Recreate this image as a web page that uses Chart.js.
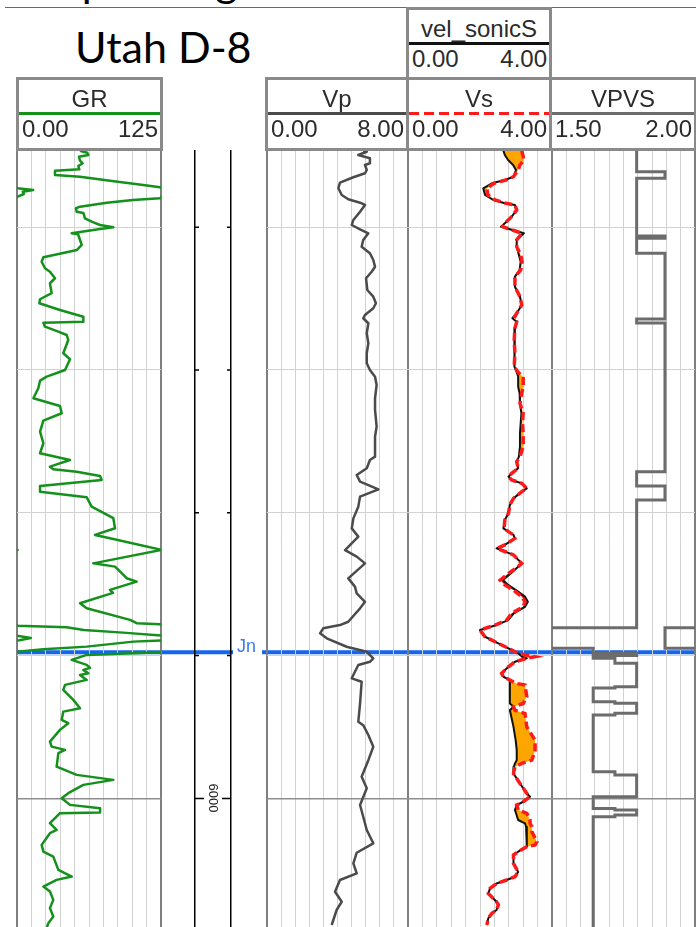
<!DOCTYPE html>
<html>
<head>
<meta charset="utf-8">
<title>Utah D-8</title>
<script src="https://cdn.jsdelivr.net/npm/chart.js@4.4.1/dist/chart.umd.min.js"></script>
<style>
  html, body { margin: 0; padding: 0; background: #fff; }
  body { position: relative; width: 696px; height: 927px; overflow: hidden;
         font-family: "Liberation Sans", Arial, sans-serif; }
  .t { position: absolute; white-space: nowrap; }
  .big { font-family: Lato, "Open Sans", sans-serif; font-size: 43px; line-height: 43px; color: #000; }
  .box { position: absolute; box-sizing: border-box; border: 3px solid #8a8a8a; background: #fff; z-index: 3; }
  .hd { position: absolute; font-size: 24px; line-height: 24px; color: #2b2b2b; white-space: nowrap; z-index: 4; }
  .hl { position: absolute; height: 3px; z-index: 4; }
  canvas { position: absolute; top: 150px; }
</style>
</head>
<body>
<div class="t big" style="left:55px; top:-41px;">Vp/Vs log</div>
<div class="t" style="left:5px; top:7px; width:691px; height:1px; background:#6a6a6a;"></div>
<div class="t big" style="left:75px; top:25px;">Utah D-8</div>

<canvas id="cGR"></canvas>
<canvas id="cDepth"></canvas>
<canvas id="cVp"></canvas>
<canvas id="cVs"></canvas>
<canvas id="cVpvs"></canvas>

<script>
// ---- depth window (ft) ----
const DEPTH_TOP = 5546;
const DEPTH_BASE = 6090;
const depthTicks = [5600, 5700, 5800, 5900, 6000];
const labelledDepths = [6000];

// ---- formation tops ----
const topNames = ['Jn'];
const topDepths = [5897.7];

// ---- header text ----
const trackNames = ['GR', 'Vp', 'Vs', 'VPVS'];
const scaleLeftLabels = ['0.00', '0.00', '0.00', '1.50'];
const scaleRightLabels = ['125', '8.00', '4.00', '2.00'];
const overlayName = 'vel_sonicS';
const overlayLeftLabel = '0.00';
const overlayRightLabel = '4.00';

// ---- gamma ray (API) ----
const grDepth = [
  5546.5, 5547.9, 5549.5, 5550.7, 5553.5, 5555.3, 5557.2, 5559.5, 5560.5, 5563.5,
  5564.7, 5567.5, 5570.5, 5572.1, 5572.8, 5574.0, 5575.2, 5576.8, 5578.7, 5579.8,
  5581.0, 5582.9, 5585.7, 5586.8, 5589.2, 5590.1, 5593.8, 5596.2, 5598.5, 5600.1,
  5601.3, 5604.3, 5605.0, 5612.5, 5616.0, 5621.1, 5624.2, 5628.8, 5631.2, 5635.8,
  5639.3, 5646.3, 5647.5, 5650.5, 5653.3, 5658.0, 5662.7, 5666.2, 5666.9, 5669.7,
  5673.2, 5675.5, 5679.0, 5688.3, 5692.5, 5700.0, 5704.7, 5707.5, 5712.8, 5719.8,
  5725.2, 5730.3, 5735.5, 5743.2, 5751.3, 5758.3, 5763.0, 5767.7, 5769.5, 5771.2,
  5774.2, 5777.0, 5781.2, 5785.2, 5789.1, 5795.7, 5803.8, 5810.8, 5815.5, 5817.8,
  5826.0, 5835.4, 5837.7, 5845.8, 5848.2, 5854.0, 5856.1, 5863.3, 5866.8, 5875.0,
  5877.3, 5878.0, 5879.0, 5880.1, 5882.0, 5883.9, 5886.0, 5887.6, 5889.3, 5890.2,
  5893.7, 5895.5, 5897.2, 5897.6, 5899.5, 5903.0, 5906.5, 5908.6, 5910.0, 5912.3,
  5913.5, 5917.0, 5920.5, 5924.0, 5927.5, 5931.0, 5936.8, 5939.2, 5945.0, 5947.3,
  5952.0, 5960.2, 5963.7, 5966.0, 5968.3, 5977.7, 5983.5, 5987.0, 5990.5, 5996.3,
  5999.8, 6004.5, 6006.8, 6009.9, 6010.3, 6013.8, 6017.3, 6022.0, 6024.3, 6032.5,
  6037.2, 6040.7, 6050.0, 6054.7, 6057.0, 6061.7, 6065.2, 6071.0, 6076.8, 6082.7,
  6087.3, 6090.0
];
const grApi = [
  54.7, 61.0, 61.9, 53.8, 54.7, 57.0, 53.2, 54.1, 33.0, 33.0,
  54.7, 80.7, 109.6, 124.1, 125.5, 139, 130, 131, 125.5, 124.1,
  100.7, 77.9, 54.7, 51.2, 51.8, 57.6, 59.0, 64.8, 72.1, 83.6,
  72.1, 47.5, 53.0, 56.2, 52.1, 22.9, 21.4, 24.3, 28.6, 33.0,
  28.6, 30.1, 27.2, 20.0, 19.4, 37.3, 57.6, 57.6, 22.9, 24.3,
  35.9, 43.1, 44.5, 40.2, 46.0, 41.7, 25.8, 20.0, 18.5, 14.2,
  37.3, 38.8, 22.9, 20.0, 22.9, 20.0, 46.0, 28.6, 31.5, 51.8,
  72.1, 73.5, 20.0, 20.0, 60.5, 64.8, 83.6, 85.1, 67.7, 80.7,
  125.5, 66.2, 85.1, 95.2, 103.9, 80.7, 83.3, 54.7, 60.5, 98.1,
  103.9, 124.1, 125.5, 168, 183, 217, 250, 262, 252, 226,
  185.5, 147.8, 125.5, 124, 60.5, 47.5, 60.5, 63.4, 57.6, 61.9,
  54.7, 60.5, 41.7, 40.2, 44.5, 48.9, 54.7, 40.2, 38.8, 44.5,
  37.3, 28.6, 30.1, 41.7, 35.9, 34.4, 51.8, 83.6, 57.6, 44.5,
  38.8, 46.0, 72.1, 72.1, 37.3, 33.0, 28.6, 34.4, 28.6, 21.4,
  22.9, 31.5, 35.9, 47.5, 34.4, 22.9, 28.6, 31.5, 28.6, 31.5,
  27.2, 26.0
];

// ---- compressional velocity (km/s) ----
const vpDepth = [
  5546.5, 5547.2, 5549.5, 5551.8, 5555.3, 5556.5, 5560.0, 5562.3, 5565.1, 5568.9,
  5572.8, 5577.5, 5580.5, 5582.9, 5584.5, 5589.2, 5595.0, 5598.5, 5601.5, 5604.3,
  5609.0, 5613.7, 5618.3, 5623.0, 5627.7, 5631.2, 5635.8, 5644.0, 5648.7, 5653.3,
  5656.8, 5661.5, 5663.8, 5667.3, 5674.3, 5681.3, 5688.3, 5695.3, 5700.0, 5704.7,
  5710.5, 5719.8, 5728.0, 5739.7, 5746.7, 5760.7, 5763.0, 5768.8, 5773.5, 5778.2,
  5783.6, 5788.7, 5795.7, 5803.9, 5810.9, 5816.7, 5826.1, 5830.7, 5835.4, 5845.9,
  5851.7, 5856.4, 5862.3, 5866.9, 5876.3, 5878.6, 5880.9, 5884.4, 5887.9, 5893.8,
  5897.3, 5901.9, 5904.3, 5906.6, 5911.3, 5915.9, 5918.3, 5933.5, 5946.3, 5948.7,
  5955.6, 5963.8, 5973.2, 5984.8, 5992.9, 6004.6, 6012.8, 6022.1, 6031.4, 6038.0,
  6045.4, 6052.4, 6057.1, 6065.3, 6072.3, 6078.1, 6088.6
];
const vp = [
  5.46, 5.66, 5.18, 5.84, 5.84, 5.56, 5.66, 5.56, 4.90, 4.14,
  4.05, 4.24, 4.61, 5.28, 5.56, 5.28, 4.90, 4.81, 5.28, 5.75,
  5.46, 5.37, 5.84, 6.03, 6.13, 5.94, 5.62, 5.69, 6.03, 6.18,
  6.03, 5.56, 5.46, 5.75, 5.66, 5.75, 5.66, 5.66, 5.84, 6.13,
  6.22, 6.13, 6.13, 6.22, 6.13, 6.13, 5.84, 5.66, 5.09, 5.28,
  6.32, 5.28, 5.18, 4.90, 4.81, 5.18, 4.43, 5.09, 5.56, 4.61,
  4.99, 5.09, 5.56, 5.28, 4.61, 4.14, 3.19, 3.01, 3.39, 4.52,
  5.66, 6.03, 5.84, 5.18, 4.99, 4.81, 5.37, 5.28, 5.18, 5.46,
  5.75, 6.03, 5.75, 5.37, 5.66, 5.28, 5.46, 5.66, 6.03, 5.09,
  4.90, 5.09, 4.14, 3.86, 4.24, 3.95, 3.67
];

// ---- shear velocity: measured (vel_sonicS) and modelled (Vs), km/s ----
const sonicDepth = [
  5546.5, 5549.5, 5553.0, 5556.5, 5560.0, 5564.7, 5567.0, 5569.3, 5572.8, 5577.5,
  5581.0, 5583.3, 5584.5, 5588.0, 5592.7, 5597.3, 5599.7, 5601.5, 5604.3, 5609.0,
  5613.7, 5619.5, 5624.2, 5630.0, 5634.7, 5641.7, 5648.7, 5654.5, 5660.3, 5663.8,
  5666.2, 5670.8, 5679.0, 5688.3, 5697.7, 5702.3, 5704.7, 5711.7, 5716.3, 5723.3,
  5730.3, 5737.3, 5744.3, 5753.7, 5760.7, 5764.2, 5768.8, 5772.4, 5774.7, 5777.0,
  5779.4, 5782.9, 5785.2, 5789.9, 5794.5, 5800.4, 5805.0, 5810.9, 5813.2, 5815.5,
  5817.9, 5822.5, 5824.9, 5829.5, 5835.4, 5837.7, 5842.4, 5847.1, 5850.5, 5854.1,
  5858.7, 5862.3, 5865.8, 5870.4, 5875.1, 5878.6, 5882.1, 5886.8, 5891.4, 5894.9,
  5898.4, 5900.8, 5901.9, 5904.3, 5907.8, 5912.4, 5914.8, 5917.1, 5919.4, 5920.6,
  5928.8, 5933.5, 5935.8, 5938.2, 5940.5, 5949.9, 5959.2, 5966.2, 5973.2, 5975.5,
  5977.9, 5982.5, 5989.5, 5996.5, 5998.8, 6002.3, 6004.6, 6008.1, 6010.4, 6015.1,
  6017.4, 6019.8, 6023.3, 6030.3, 6032.6, 6033.8, 6037.3, 6039.6, 6045.5, 6051.4,
  6054.8, 6057.1, 6059.5, 6063.0, 6066.5, 6070.0, 6072.3, 6074.6, 6078.1, 6080.4,
  6083.9, 6088.6
];
const velSonicS = [
  2.65, 2.69, 2.78, 2.92, 3.00, 2.93, 2.69, 2.33, 2.09, 2.14,
  2.37, 2.69, 2.97, 3.02, 2.88, 2.69, 2.58, 2.83, 3.22, 3.02,
  3.02, 3.08, 3.13, 3.10, 2.97, 2.97, 3.11, 3.16, 3.02, 2.90,
  3.02, 2.97, 2.95, 2.97, 2.95, 3.03, 3.06, 3.06, 3.10, 3.11,
  3.15, 3.13, 3.11, 3.11, 3.08, 3.02, 3.06, 2.88, 2.79, 2.88,
  3.16, 3.30, 3.16, 2.93, 2.83, 2.79, 2.69, 2.65, 2.79, 2.93,
  2.97, 2.69, 2.46, 2.93, 3.16, 3.06, 2.86, 2.64, 2.78, 3.00,
  3.25, 3.33, 3.25, 2.94, 2.78, 2.46, 2.00, 2.14, 2.51, 2.79,
  3.06, 3.17, 3.30, 2.97, 2.79, 2.60, 2.65, 2.83, 2.83, 2.83,
  2.83, 2.83, 2.93, 2.83, 2.85, 2.93, 2.99, 3.02, 3.02, 2.97,
  2.94, 2.93, 3.11, 3.30, 3.39, 3.20, 3.02, 2.97, 3.00, 3.06,
  3.25, 3.28, 3.30, 3.30, 3.30, 3.30, 3.06, 2.93, 2.93, 3.06,
  2.97, 2.74, 2.46, 2.28, 2.23, 2.37, 2.46, 2.51, 2.46, 2.33,
  2.23, 2.19
];
const vs = [
  3.16, 3.19, 3.22, 3.11, 3.06, 2.93, 2.72, 2.39, 2.19, 2.22,
  2.42, 2.72, 2.97, 3.02, 2.88, 2.69, 2.63, 2.83, 3.17, 3.02,
  3.02, 3.13, 3.17, 3.13, 2.97, 2.97, 3.11, 3.16, 3.02, 2.94,
  3.02, 2.97, 2.95, 2.97, 2.95, 3.08, 3.20, 3.20, 3.16, 3.11,
  3.20, 3.18, 3.20, 3.20, 3.11, 3.02, 3.06, 2.88, 2.79, 2.88,
  3.16, 3.30, 3.16, 2.93, 2.83, 2.79, 2.69, 2.67, 2.79, 2.93,
  2.97, 2.69, 2.47, 2.93, 3.16, 3.06, 2.79, 2.56, 2.69, 2.93,
  3.16, 3.25, 3.20, 2.88, 2.74, 2.42, 2.00, 2.14, 2.51, 2.79,
  3.06, 3.53, 3.30, 2.97, 2.79, 2.60, 2.65, 2.83, 3.00, 3.25,
  3.30, 3.20, 2.93, 2.97, 3.25, 3.30, 3.53, 3.53, 3.44, 3.16,
  2.97, 2.93, 3.11, 3.30, 3.39, 3.20, 3.02, 3.06, 3.30, 3.39,
  3.39, 3.44, 3.44, 3.58, 3.53, 3.30, 3.06, 2.93, 2.93, 3.06,
  2.97, 2.74, 2.46, 2.28, 2.23, 2.37, 2.46, 2.51, 2.46, 2.33,
  2.23, 2.19
];

// ---- Vp/Vs ratio (blocked; each value holds down to the next depth) ----
const vpvsDepth = [
  5546.0, 5561.2, 5565.8, 5606.2, 5607.8, 5618.3, 5664.3, 5667.1, 5771.2, 5781.2,
  5791.0, 5880.4, 5894.9, 5898.4, 5899.9, 5901.9, 5905.4, 5921.8, 5922.7, 5932.3,
  5933.4, 5940.4, 5941.6, 5981.3, 5983.6, 5998.8, 6007.0, 6008.1, 6011.6, 6012.8,
  6090.0
];
const vpvs = [
  1.796, 1.895, 1.796, 1.895, 1.796, 1.895, 1.796, 1.895, 1.796, 1.895,
  1.796, 1.395, 1.644, 1.796, 1.644, 1.720, 1.796, 1.720, 1.644, 1.720,
  1.796, 1.720, 1.644, 1.720, 1.796, 1.644, 1.720, 1.796, 1.720, 1.644,
  1.644
];

// ---- colours ----
const GR_COLOR = '#13911b';
const VP_COLOR = '#4b4b4b';
const VS_COLOR = '#ff1a1a';
const VEL_COLOR = '#111111';
const VPVS_COLOR = '#6c6c6c';
const TOP_COLOR = '#1466ee';
const GRID = '#d2d2d2';
const TRACK_EDGE = '#7f7f7f';

const TRACK_TOP = 150;
const TRACK_HEIGHT = 777;

function pairs(depths, values) {
  return depths.map((d, i) => ({ x: values[i], y: d }));
}

// Backup traces: values past a track edge wrap back in from the opposite edge
const grWrap1 = grApi.map((v, i) =>
  (v > 125 || grApi[i - 1] > 125 || grApi[i + 1] > 125) ? v - 125 : null);
const grWrap2 = grApi.map((v, i) =>
  (v > 250 || grApi[i - 1] > 250 || grApi[i + 1] > 250) ? v - 250 : null);
const vpvsWrap = vpvs.map((v, i) =>
  (v < 1.5 || vpvs[i - 1] < 1.5 || vpvs[i + 1] < 1.5) ? v + 0.5 : null);

// Shading edges between the two shear curves
const sonicUpper = vs.map((v, i) => Math.max(v, velSonicS[i]));
const sonicLower = vs.map((v, i) => Math.min(v, velSonicS[i]));

// ---- plugins ----
const topsPlugin = {
  id: 'formationTops',
  beforeDraw(chart) {
    const { ctx } = chart;
    const ys = chart.scales.y;
    topDepths.forEach(d => {
      const py = ys.getPixelForValue(d);
      ctx.save();
      ctx.strokeStyle = TOP_COLOR;
      ctx.lineWidth = 4;
      ctx.beginPath();
      ctx.moveTo(0, py);
      ctx.lineTo(chart.width, py);
      ctx.stroke();
      ctx.restore();
    });
  }
};

const depthTickPlugin = {
  id: 'depthTickMarks',
  afterDraw(chart) {
    const { ctx, chartArea: a } = chart;
    const ys = chart.scales.y;
    ctx.save();
    ctx.strokeStyle = '#000';
    ctx.lineWidth = 1.5;
    ys.ticks.forEach(t => {
      const py = ys.getPixelForValue(t.value);
      const len = labelledDepths.includes(t.value) ? 9 : 4;
      ctx.beginPath();
      ctx.moveTo(a.left, py); ctx.lineTo(a.left + len, py);
      ctx.moveTo(a.right - len, py); ctx.lineTo(a.right, py);
      ctx.stroke();
    });
    ctx.restore();
  }
};

// ---- axes ----
function depthAxis(showGrid) {
  return {
    type: 'linear', reverse: true, min: DEPTH_TOP, max: DEPTH_BASE,
    afterBuildTicks: axis => { axis.ticks = depthTicks.map(v => ({ value: v })); },
    ticks: { display: false },
    border: { display: false },
    grid: {
      display: showGrid, drawTicks: false,
      color: c => (c.tick && c.tick.value % 500 === 0) ? '#8d8d8d' : GRID,
      lineWidth: c => (c.tick && c.tick.value % 500 === 0) ? 1.5 : 1
    }
  };
}
function valueAxis(min, max, divisions, edgeColor, edgeWidth) {
  return {
    type: 'linear', position: 'top', min, max,
    ticks: { display: false, count: divisions + 1 },
    border: { display: false },
    grid: {
      drawTicks: false,
      color: c => (c.index === 0 || c.index === divisions) ? edgeColor : GRID,
      lineWidth: c => (c.index === 0 || c.index === divisions) ? edgeWidth : 1
    }
  };
}

function makeChart(id, left, width, xAxis, datasets, padding, extra, showDepthGrid) {
  const cv = document.getElementById(id);
  cv.width = width; cv.height = TRACK_HEIGHT;
  cv.style.left = left + 'px';
  cv.style.top = TRACK_TOP + 'px';
  cv.style.width = width + 'px';
  cv.style.height = TRACK_HEIGHT + 'px';
  return new Chart(cv, {
    type: 'line',
    data: { datasets },
    options: {
      indexAxis: 'y', responsive: false, maintainAspectRatio: false,
      animation: false, devicePixelRatio: 1, events: [],
      layout: { padding: Object.assign({ left: 0, right: 0, top: 0, bottom: 0 }, padding) },
      plugins: { legend: { display: false }, tooltip: { enabled: false } },
      elements: { point: { radius: 0, hoverRadius: 0 }, line: { tension: 0 } },
      scales: { x: xAxis, y: depthAxis(showDepthGrid !== false) }
    },
    plugins: [topsPlugin].concat(extra || [])
  });
}

const line = (label, data, color, width, more) => Object.assign({
  label, data, borderColor: color, borderWidth: width, fill: false,
  pointRadius: 0, clip: 0, spanGaps: false, borderJoinStyle: 'round'
}, more || {});

// GR track
makeChart('cGR', 16, 146, valueAxis(0, 125, 10, TRACK_EDGE, 2), [
  line('GR', pairs(grDepth, grApi), GR_COLOR, 2.5),
  line('GR backup', pairs(grDepth, grWrap1), GR_COLOR, 2.5),
  line('GR backup 2', pairs(grDepth, grWrap2), GR_COLOR, 2.5)
], { left: 1, right: 1 });

// depth track
const depthChart = makeChart('cDepth', 162, 71, valueAxis(0, 1, 1, '#000', 1.5), [],
  { left: 33, right: 2 }, [depthTickPlugin], false);

// Vp track
makeChart('cVp', 262, 146, valueAxis(0, 8, 10, TRACK_EDGE, 2), [
  line('Vp', pairs(vpDepth, vp), VP_COLOR, 2.5)
], { left: 5 });

// Vs track
makeChart('cVs', 408, 144, valueAxis(0, 4, 10, TRACK_EDGE, 2), [
  line('Vs', pairs(sonicDepth, vs), VS_COLOR, 3.5, { borderDash: [8, 4], borderJoinStyle: 'miter' }),
  line('vel_sonicS', pairs(sonicDepth, velSonicS), VEL_COLOR, 2),
  line('Vs above vel_sonicS', pairs(sonicDepth, sonicUpper), 'rgba(0,0,0,0)', 0,
       { fill: 1, backgroundColor: '#ffa500' }),
  line('Vs below vel_sonicS', pairs(sonicDepth, sonicLower), 'rgba(0,0,0,0)', 0,
       { fill: 1, backgroundColor: '#ff0000' })
], {});

// Vp/Vs track
makeChart('cVpvs', 552, 144, valueAxis(1.5, 2.0, 10, TRACK_EDGE, 2), [
  line('VPVS', pairs(vpvsDepth, vpvs), VPVS_COLOR, 3, { stepped: 'after', borderJoinStyle: 'miter' }),
  line('VPVS backup', pairs(vpvsDepth, vpvsWrap), VPVS_COLOR, 3, { stepped: 'after', borderJoinStyle: 'miter' })
], { right: 1 });

// ---- headers ----
function addText(text, left, top, width, align, cls, color) {
  const d = document.createElement('div');
  d.className = cls || 'hd';
  d.textContent = text;
  d.style.left = left + 'px';
  d.style.top = top + 'px';
  if (width != null) d.style.width = width + 'px';
  if (align) d.style.textAlign = align;
  if (color) d.style.color = color;
  document.body.appendChild(d);
  return d;
}
function header(left, right, top, height, name, lo, hi, lineBg) {
  const box = document.createElement('div');
  box.className = 'box';
  box.style.left = left + 'px';
  box.style.top = top + 'px';
  box.style.width = (right - left) + 'px';
  box.style.height = height + 'px';
  document.body.appendChild(box);
  const inL = left + 3, inR = right - 3;
  addText(name, inL, top + 30 - 20.3, inR - inL, 'center');
  const ln = document.createElement('div');
  ln.className = 'hl';
  ln.style.left = inL + 'px';
  ln.style.width = (inR - inL) + 'px';
  ln.style.top = (top + 35) + 'px';
  ln.style.background = lineBg;
  document.body.appendChild(ln);
  addText(lo, inL + 3, top + 60 - 20.3, null, 'left');
  addText(hi, inL, top + 60 - 20.3, inR - inL - 2, 'right');
}
const dashRed = 'repeating-linear-gradient(to right, ' + VS_COLOR + ' 0 10px, transparent 10px 15px)';
header(16, 163, 77, 74, trackNames[0], scaleLeftLabels[0], scaleRightLabels[0], GR_COLOR);
header(265, 409, 77, 74, trackNames[1], scaleLeftLabels[1], scaleRightLabels[1], VP_COLOR);
header(406, 552, 77, 74, trackNames[2], scaleLeftLabels[2], scaleRightLabels[2], dashRed);
header(549, 697, 77, 74, trackNames[3], scaleLeftLabels[3], scaleRightLabels[3], VPVS_COLOR);
header(406, 552, 7, 73, overlayName, overlayLeftLabel, overlayRightLabel, VEL_COLOR);

// ---- depth labels and top names, placed through the depth scale ----
const ys = depthChart.scales.y;
const ca = depthChart.chartArea;
const canvasLeft = 162;
labelledDepths.forEach(v => {
  const d = document.createElement('div');
  d.className = 't';
  d.textContent = String(v);
  d.style.font = '13px "Liberation Sans", Arial, sans-serif';
  d.style.color = '#222';
  d.style.lineHeight = '13px';
  d.style.left = (canvasLeft + (ca.left + ca.right) / 2) + 'px';
  d.style.top = (TRACK_TOP + ys.getPixelForValue(v)) + 'px';
  d.style.transform = 'translate(-50%, -50%) rotate(90deg)';
  d.style.background = '#fff';
  document.body.appendChild(d);
});
topNames.forEach((n, i) => {
  const d = document.createElement('div');
  d.className = 't';
  d.textContent = n;
  d.style.font = '18px "Liberation Sans", Arial, sans-serif';
  d.style.lineHeight = '18px';
  d.style.color = '#3a7df0';
  d.style.left = (canvasLeft + ca.right + 6) + 'px';
  d.style.top = (TRACK_TOP + ys.getPixelForValue(topDepths[i]) - 15.8) + 'px';
  document.body.appendChild(d);
});
</script>
</body>
</html>
